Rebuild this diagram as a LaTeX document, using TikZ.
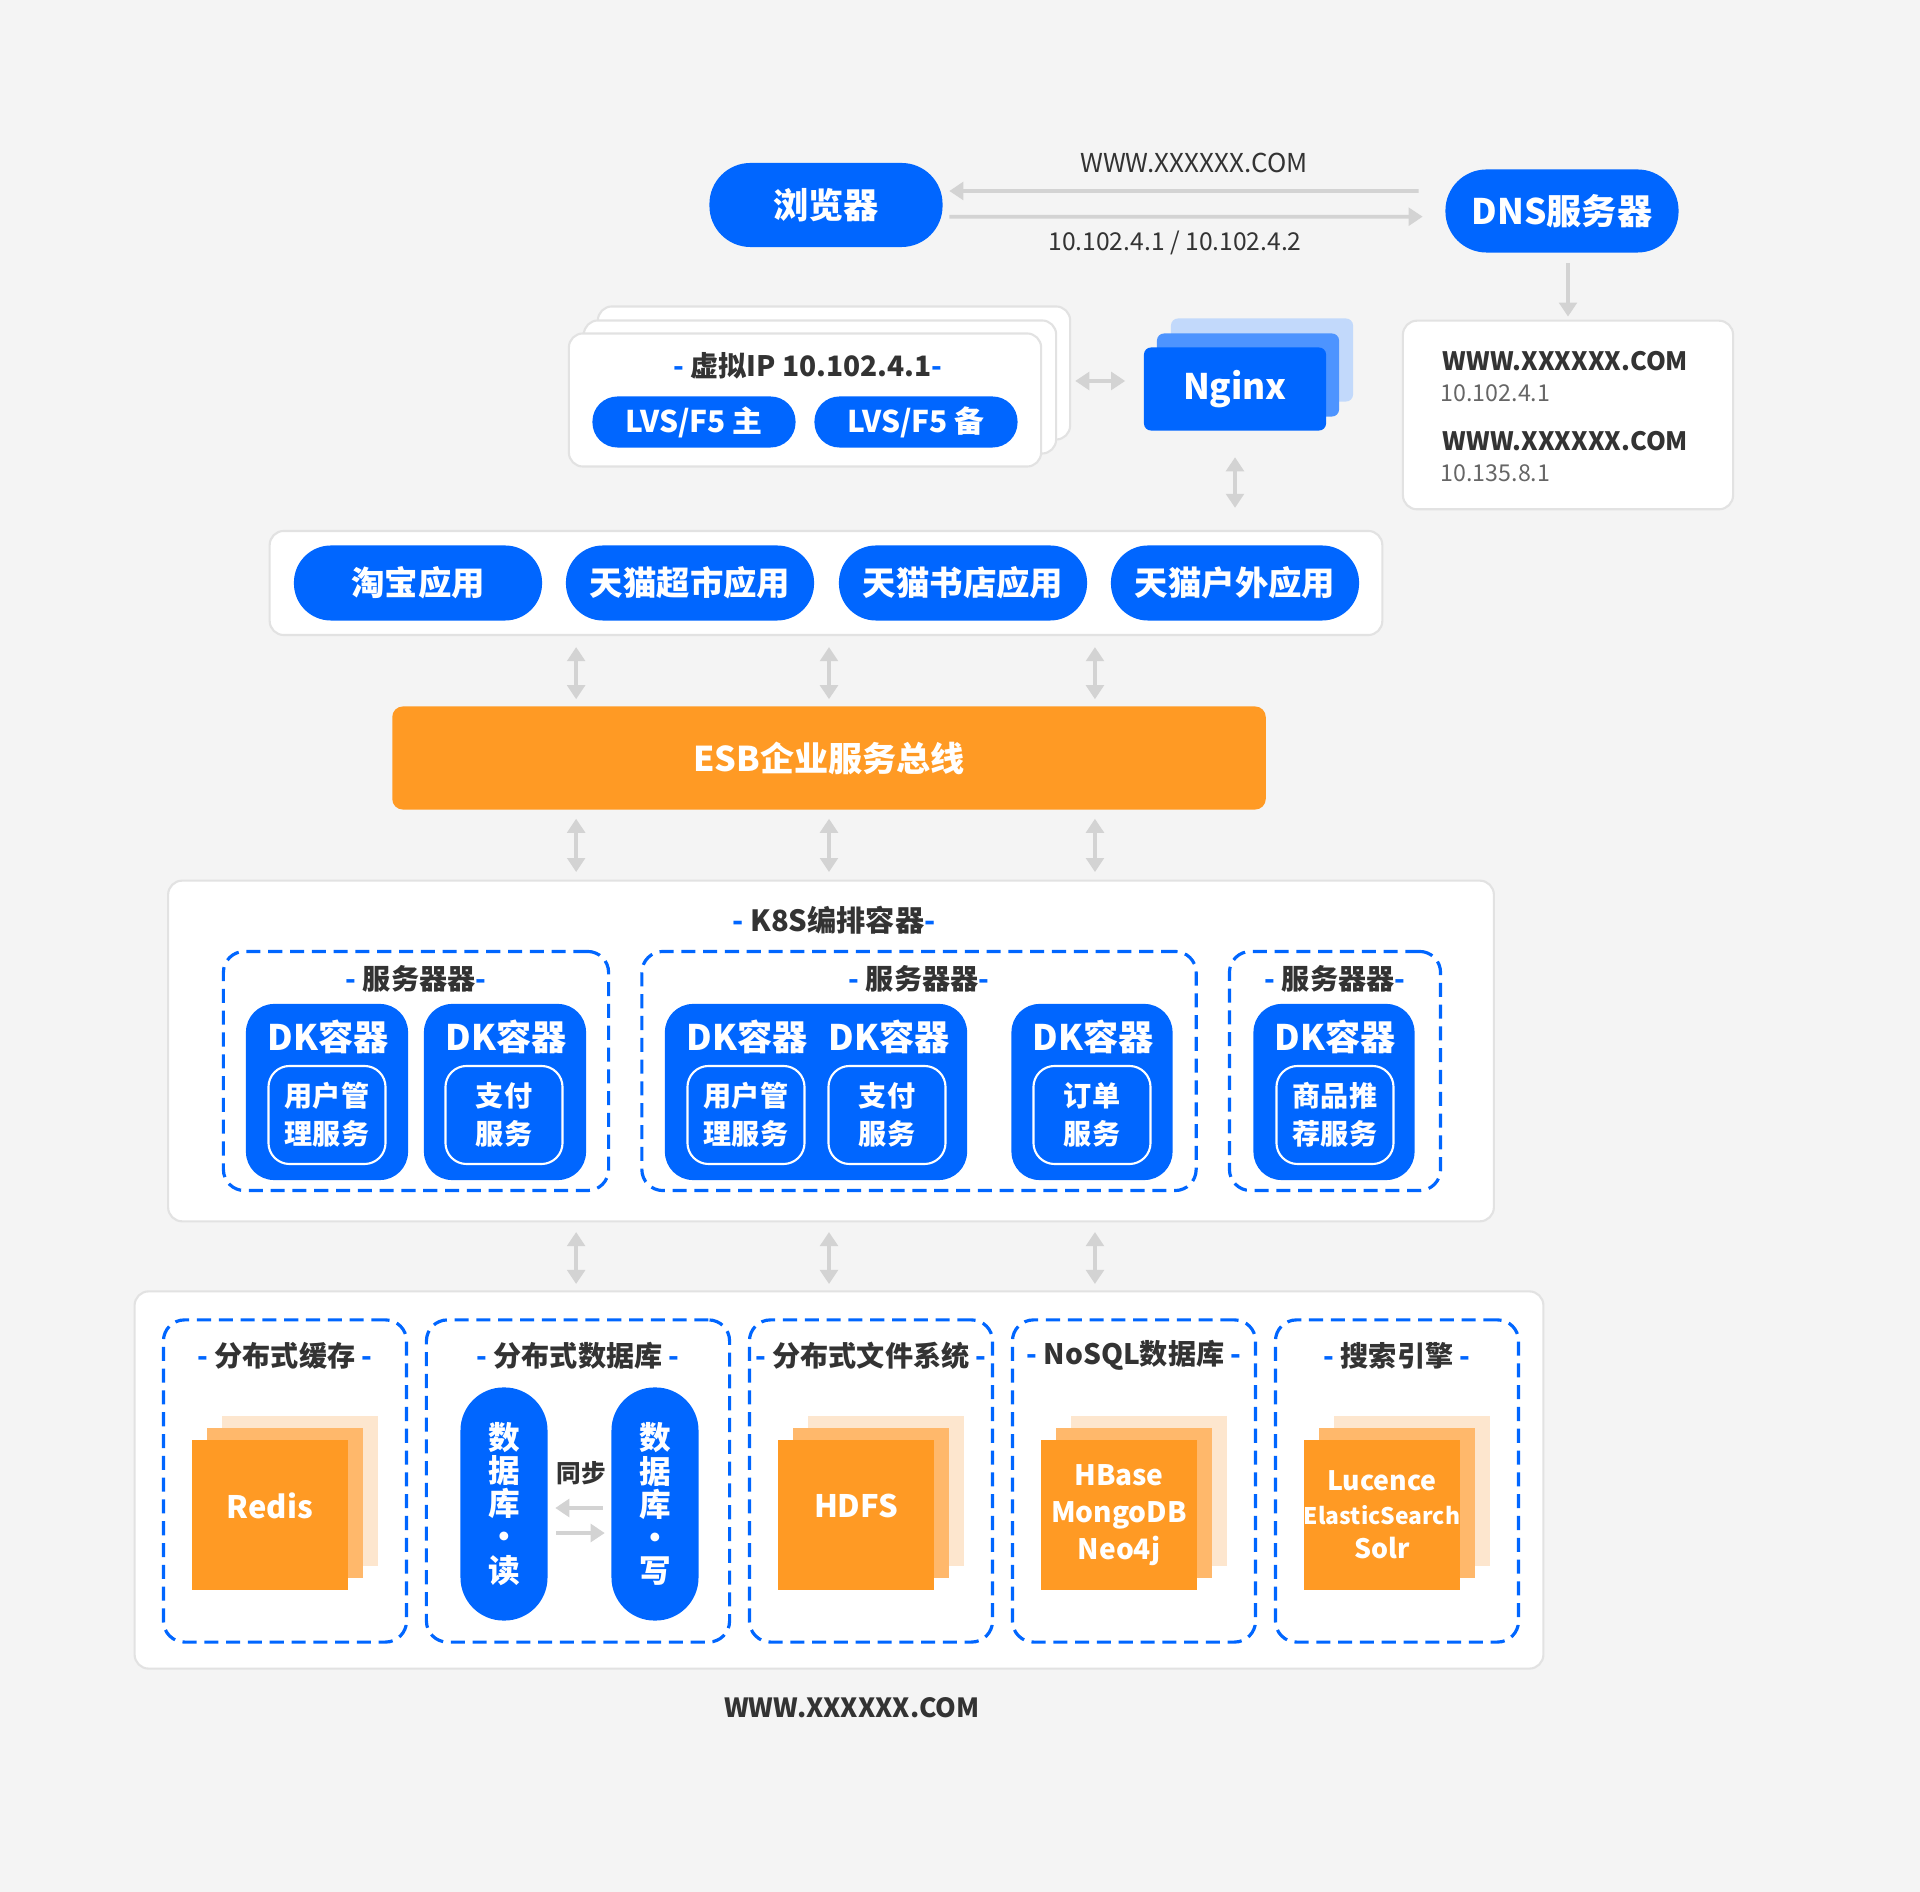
\documentclass[tikz,border=0pt]{standalone}
\usepackage{fontspec}
\setmainfont{Noto Sans CJK SC}
\usepackage{xcolor}
\usepackage{tikz}
\usetikzlibrary{arrows.meta, positioning, calc}
\definecolor{bgcolor}{HTML}{F4F4F4}
\definecolor{bluecol}{HTML}{0066FF}
\definecolor{nginxmid}{HTML}{4D94FF}
\definecolor{nginxback}{HTML}{C2D9FB}
\definecolor{orangecol}{HTML}{FF9A24}
\definecolor{orangemid}{HTML}{FFB86B}
\definecolor{orangelight}{HTML}{FDE6CE}
\definecolor{arrowcol}{HTML}{D3D3D3}
\definecolor{panelline}{HTML}{E2E2E2}
\definecolor{textcol}{HTML}{333333}
\definecolor{subcol}{HTML}{666666}
\newcommand{\bdash}{\textcolor{bluecol}{-}}

\begin{document}
\begin{tikzpicture}[
    x=0.01cm, y=-0.01cm,
    pill/.style={fill=bluecol, text=white, font=\bfseries\fontsize{10}{12}\selectfont, inner sep=0pt},
    panel/.style={fill=white, draw=panelline, line width=0.6pt, rounded corners=4pt, inner sep=0pt},
    server/.style={draw=bluecol, line width=0.9pt, dash pattern=on 4pt off 2.2pt, rounded corners=6pt, inner sep=0pt},
    dkbox/.style={fill=bluecol, rounded corners=8pt, inner sep=0pt, minimum height=1.76cm},
    dklabel/.style={text=white, font=\bfseries\fontsize{10}{12}\selectfont},
    svcbox/.style={draw=white, line width=0.6pt, rounded corners=6pt, minimum width=1.17cm, minimum height=0.98cm, text=white, font=\bfseries\fontsize{8}{10.8}\selectfont, align=center, inner sep=0pt},
    grouptitle/.style={text=textcol, font=\bfseries\fontsize{8}{10}\selectfont},
    nginxbox/.style={minimum width=1.82cm, minimum height=0.83cm, rounded corners=2pt, inner sep=0pt},
    sq/.style={minimum width=1.55cm, minimum height=1.50cm, inner sep=0pt},
    sqtext/.style={text=white, font=\bfseries\fontsize{8.8}{11}\selectfont, align=center},
    note/.style={text=textcol, font=\fontsize{7.4}{8}\selectfont},
    recname/.style={text=textcol, font=\bfseries\fontsize{7.2}{8}\selectfont, anchor=west, inner sep=0pt},
    recip/.style={text=subcol, font=\fontsize{6.6}{8}\selectfont, anchor=west, inner sep=0pt},
    garrow/.style={draw=arrowcol, line width=1.1pt, -{Triangle[length=4pt, width=5pt]}},
    gboth/.style={draw=arrowcol, line width=1.1pt, {Triangle[length=4pt, width=5pt]}-{Triangle[length=4pt, width=5pt]}}
]
    % Background
    \fill[bgcolor] (0,0) rectangle (1920,1892);
    \useasboundingbox (0,0) rectangle (1920,1892);

    % Browser and DNS
    \node[pill, minimum width=2.33cm, minimum height=0.84cm, rounded corners=0.41cm] (browser) at (826,205) {浏览器};
    \node[pill, minimum width=2.33cm, minimum height=0.83cm, rounded corners=0.41cm] (dns) at (1562,211) {DNS服务器};
    \node[note] (domain) at (1194,163) {WWW.XXXXXX.COM};
    \node[note, font=\fontsize{7}{8}\selectfont] (iplist) at (1175,243) {10.102.4.1 / 10.102.4.2};
    \draw[garrow, shorten <=0.26cm, shorten >=0.06cm] ([yshift=0.2cm]dns.west) -- ([yshift=0.14cm]browser.east);
    \draw[garrow, shorten <=0.06cm, shorten >=0.22cm] ([yshift=-0.117cm]browser.east) -- ([yshift=-0.057cm]dns.west);

    % DNS records
    \node[panel, minimum width=3.30cm, minimum height=1.885cm] (rec) at (1568,415) {};
    \draw[garrow, shorten <=0.1cm, shorten >=0.03cm] (rec.north |- dns.south) -- (rec.north);
    \node[recname] (rec1) at (1442,361) {WWW.XXXXXX.COM};
    \node[recip] (ip1) at (1440,393) {10.102.4.1};
    \node[recname] (rec2) at (1442,441) {WWW.XXXXXX.COM};
    \node[recip] (ip2) at (1440,473) {10.135.8.1};

    % LVS cards
    \node[panel, minimum width=4.72cm, minimum height=1.33cm] (lvsback) at (834,373) {};
    \node[panel, minimum width=4.72cm, minimum height=1.33cm] (lvsmid) at (820,387) {};
    \node[panel, minimum width=4.72cm, minimum height=1.33cm] (lvs) at (805,400) {};
    \node[grouptitle] (vip) at (808,366) {\bdash\ 虚拟IP 10.102.4.1\bdash};
    \node[pill, font=\bfseries\fontsize{8.5}{10}\selectfont, minimum width=2.03cm, minimum height=0.51cm, rounded corners=0.25cm] (lvsmain) at (694,422) {LVS/F5 主};
    \node[pill, font=\bfseries\fontsize{8.5}{10}\selectfont, minimum width=2.03cm, minimum height=0.51cm, rounded corners=0.25cm] (lvsbak) at (916,422) {LVS/F5 备};

    % Nginx
    \node[nginxbox, fill=nginxback] (ngback) at (1262,360) {};
    \node[nginxbox, fill=nginxmid] (ngmid) at (1248,375) {};
    \node[nginxbox, fill=bluecol, text=white, font=\bfseries\fontsize{10}{12}\selectfont] (nginx) at (1235,389) {Nginx};
    \draw[gboth, shorten <=0.33cm, shorten >=0.18cm] ([yshift=0.19cm]lvs.east) -- ([yshift=0.08cm]nginx.west);

    % Applications
    \node[panel, minimum width=11.12cm, minimum height=1.04cm] (apps) at (826,583) {};
    \draw[gboth, shorten <=0.26cm, shorten >=0.22cm] (nginx.south) -- (nginx.south |- apps.north);
    \node[pill, font=\bfseries\fontsize{9.5}{11}\selectfont, minimum width=2.48cm, minimum height=0.75cm, rounded corners=0.37cm] (taobao) at (418,583) {淘宝应用};
    \node[pill, font=\bfseries\fontsize{9.5}{11}\selectfont, minimum width=2.48cm, minimum height=0.75cm, rounded corners=0.37cm] (market) at (690,583) {天猫超市应用};
    \node[pill, font=\bfseries\fontsize{9.5}{11}\selectfont, minimum width=2.48cm, minimum height=0.75cm, rounded corners=0.37cm] (books) at (963,583) {天猫书店应用};
    \node[pill, font=\bfseries\fontsize{9.5}{11}\selectfont, minimum width=2.48cm, minimum height=0.75cm, rounded corners=0.37cm] (outdoor) at (1235,583) {天猫户外应用};

    % ESB
    \node[fill=orangecol, text=white, font=\bfseries\fontsize{9.7}{12}\selectfont, minimum width=8.73cm, minimum height=1.03cm, rounded corners=3pt, inner sep=0pt] (esb) at (829,758) {ESB企业服务总线};

    % K8S
    \node[panel, minimum width=13.25cm, minimum height=3.405cm] (k8s) at (831,1051) {};
    \node[grouptitle, font=\bfseries\fontsize{8.3}{10}\selectfont] (k8stitle) at (834,920) {\bdash\ K8S编排容器\bdash};

    \node[server, minimum width=3.85cm, minimum height=2.39cm] (g1) at (416,1071) {};
    \node[server, minimum width=5.54cm, minimum height=2.39cm] (g2) at (919,1071) {};
    \node[server, minimum width=2.11cm, minimum height=2.39cm] (g3) at (1335,1071) {};
    \node[grouptitle] at ($(g1.north)+(0,29)$) {\bdash\ 服务器器\bdash};
    \node[grouptitle] at ($(g2.north)+(0,29)$) {\bdash\ 服务器器\bdash};
    \node[grouptitle] at ($(g3.north)+(0,29)$) {\bdash\ 服务器器\bdash};

    \node[dkbox, minimum width=1.62cm] (dk1) at (327,1092) {};
    \node[dkbox, minimum width=1.62cm] (dk2) at (505,1092) {};
    \node[dkbox, minimum width=3.02cm] (dk3) at (816,1092) {};
    \node[dkbox, minimum width=1.61cm] (dk4) at (1092,1092) {};
    \node[dkbox, minimum width=1.61cm] (dk5) at (1334,1092) {};

    \node[dklabel] at (328,1037) {DK容器};
    \node[dklabel] at (506,1037) {DK容器};
    \node[dklabel] at (747,1037) {DK容器};
    \node[dklabel] at (889,1037) {DK容器};
    \node[dklabel] at (1093,1037) {DK容器};
    \node[dklabel] at (1335,1037) {DK容器};

    \node[svcbox] (svc1) at (327,1115) {用户管\\理服务};
    \node[svcbox] (svc2) at (504,1115) {支付\\服务};
    \node[svcbox] (svc3) at (746,1115) {用户管\\理服务};
    \node[svcbox] (svc4) at (887,1115) {支付\\服务};
    \node[svcbox] (svc5) at (1092,1115) {订单\\服务};
    \node[svcbox] (svc6) at (1335,1115) {商品推\\荐服务};

    % Storage
    \node[panel, minimum width=14.08cm, minimum height=3.77cm] (store) at (839,1480) {};

    \node[server, minimum width=2.43cm, minimum height=3.22cm] (s1) at (285,1481) {};
    \node[server, minimum width=3.03cm, minimum height=3.22cm] (s2) at (578,1481) {};
    \node[server, minimum width=2.43cm, minimum height=3.22cm] (s3) at (871,1481) {};
    \node[server, minimum width=2.43cm, minimum height=3.22cm] (s4) at (1134,1481) {};
    \node[server, minimum width=2.43cm, minimum height=3.22cm] (s5) at (1397,1481) {};
    \node[grouptitle] at ($(s1.north)+(0,37)$) {\bdash\ 分布式缓存 \bdash};
    \node[grouptitle] at ($(s2.north)+(0,37)$) {\bdash\ 分布式数据库 \bdash};
    \node[grouptitle] at ($(s3.north)+(0,37)$) {\bdash\ 分布式文件系统 \bdash};
    \node[grouptitle] at ($(s4.north)+(0,37)$) {\bdash\ NoSQL数据库 \bdash};
    \node[grouptitle] at ($(s5.north)+(0,37)$) {\bdash\ 搜索引擎 \bdash};

    % Redis
    \node[sq, fill=orangelight] at (300,1491) {};
    \node[sq, fill=orangemid] at (285,1503) {};
    \node[sq, fill=orangecol] (redis) at (270,1515) {};
    \node[sqtext] at ($(redis)+(0,-9)$) {Redis};
    % HDFS
    \node[sq, fill=orangelight] at (886,1491) {};
    \node[sq, fill=orangemid] at (871,1503) {};
    \node[sq, fill=orangecol] (hdfs) at (856,1515) {};
    \node[sqtext] at ($(hdfs)+(0,-9)$) {HDFS};
    % NoSQL
    \node[sq, fill=orangelight] at (1149,1491) {};
    \node[sq, fill=orangemid] at (1134,1503) {};
    \node[sq, fill=orangecol, sqtext, font=\bfseries\fontsize{8}{10.5}\selectfont] (nosql) at (1119,1515) {HBase\\MongoDB\\Neo4j};
    % Search
    \node[sq, fill=orangelight] at (1412,1491) {};
    \node[sq, fill=orangemid] at (1397,1503) {};
    \node[sq, fill=orangecol, sqtext, font=\bfseries\fontsize{7.6}{9.7}\selectfont] (search) at (1382,1515) {Lucence\\{\fontsize{6.5}{9.7}\selectfont ElasticSearch}\\Solr};

    % Database read / write
    \node[pill, font=\bfseries\fontsize{9}{9.4}\selectfont, align=center, minimum width=0.87cm, minimum height=2.33cm, rounded corners=0.43cm] (dbr) at (504,1504) {数\\据\\库\\·\\读};
    \node[pill, font=\bfseries\fontsize{9}{9.4}\selectfont, align=center, minimum width=0.87cm, minimum height=2.33cm, rounded corners=0.43cm] (dbw) at (655,1504) {数\\据\\库\\·\\写};
    \node[text=textcol, font=\bfseries\fontsize{7}{8}\selectfont] (sync) at (581,1473) {同步};
    \draw[garrow, shorten <=0.08cm, shorten >=0.07cm] ([yshift=-0.04cm]dbw.west) -- ([yshift=-0.04cm]dbr.east);
    \draw[garrow, shorten <=0.08cm, shorten >=0.06cm] ([yshift=-0.29cm]dbr.east) -- ([yshift=-0.29cm]dbw.west);

    % Vertical connectors
    \foreach \f in {0.211,0.5,0.804} {
        \draw[gboth, shorten <=0.065cm, shorten >=0.11cm] ($(esb.north west)!\f!(esb.north east)$) coordinate (t) -- (t |- apps.south);
        \draw[gboth, shorten <=0.085cm, shorten >=0.075cm] ($(esb.south west)!\f!(esb.south east)$) coordinate (b) -- (b |- k8s.north);
        \draw[gboth, shorten <=0.096cm, shorten >=0.063cm] (b |- k8s.south) -- (b |- store.north);
    }

    % Footer
    \node[text=textcol, font=\bfseries\fontsize{7.5}{9}\selectfont] (footer) at (852,1708) {WWW.XXXXXX.COM};
\end{tikzpicture}
\end{document}
